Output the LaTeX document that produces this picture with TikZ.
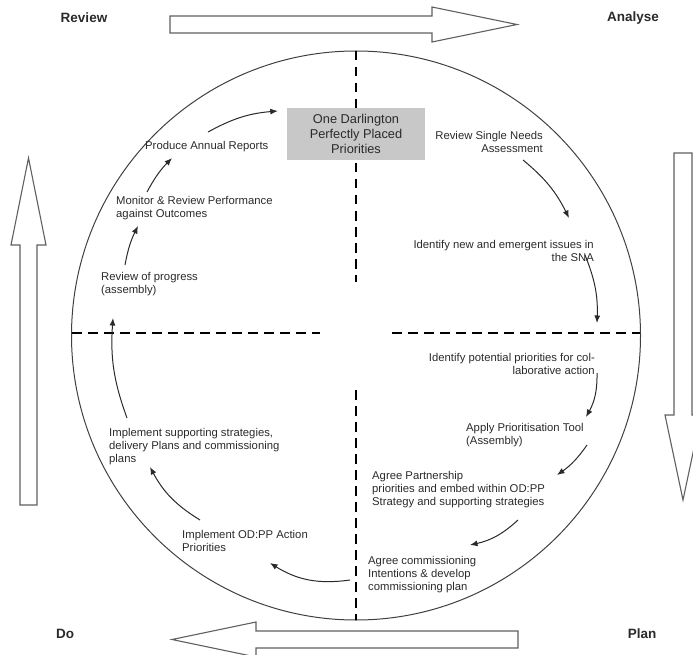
\documentclass[tikz,border=0pt]{standalone}
\usepackage{fontspec}
\setmainfont{Liberation Sans}
\usetikzlibrary{arrows.meta}
\definecolor{txtc}{HTML}{2A2A2A}
\definecolor{bigc}{HTML}{606060}
\definecolor{boxc}{HTML}{C8C8C8}
\definecolor{circc}{HTML}{404040}
\begin{document}
\begin{tikzpicture}[x=1pt,y=-1pt,
  txt/.style={inner sep=0pt, font=\fontsize{11.3}{13}\selectfont, text=txtc},
  conn/.style={draw=txtc, line width=1pt, -{Latex[length=7.5pt,width=6pt]}},
  big/.style={draw=bigc, fill=white, line width=1.1pt, line join=miter},
  divider/.style={line width=2.3pt, dash pattern=on 9.5pt off 6.5pt},
  lab/.style={inner sep=0pt, font=\bfseries\fontsize{13.5}{16}\selectfont, text=txtc}]
\useasboundingbox (0,0) rectangle (693,655);
\clip (0,0) rectangle (693,655);

% big arrows
\draw[big] (170,16) -- (432,16) -- (432,7) -- (517,24.5) -- (432,42) -- (432,33) -- (170,33) -- cycle;
\draw[big] (20,505) -- (20,245) -- (11,245) -- (28.5,158) -- (46,245) -- (37,245) -- (37,505) -- cycle;
\draw[big] (674,153) -- (692,153) -- (692,415) -- (701,415) -- (683,500) -- (665,415) -- (674,415) -- cycle;
\draw[big] (518,631) -- (256,631) -- (256,622) -- (172,639.5) -- (256,657) -- (256,648) -- (518,648) -- cycle;

% labels
\node[lab] (review) at (84,18) {Review};
\node[lab] (analyse) at (633,18) {Analyse};
\node[lab] (do) at (65,634) {Do};
\node[lab] (plan) at (642,634) {Plan};

% circle
\draw[circc, line width=1pt] (356,335.5) circle[radius=284.5];

% dividers
\draw[divider] (356,51) -- (356,282);
\draw[divider] (356,390) -- (356,620);
\draw[divider] (72,333) -- (320,333);
\draw[divider] (392,333) -- (640,333);

% centre box
\node[fill=boxc, minimum width=138pt, minimum height=52pt, align=center, inner sep=0pt,
      font=\fontsize{12.8}{14.8}\selectfont, text=txtc] (box) at (356,134)
  {One Darlington\\Perfectly Placed\\Priorities};

% steps
\node[txt, anchor=east, align=right] (n1) at (543,142) {Review Single Needs\\Assessment};
\node[txt, anchor=east, align=right] (n2) at (594,250.5) {Identify new and emergent issues in\\the SNA};
\node[txt, anchor=east, align=right] (n3) at (595,363.5) {Identify potential priorities for col-\\laborative action};
\node[txt, anchor=west, align=left] (n4) at (466,435.5) {Apply Prioritisation Tool\\(Assembly)};
\node[txt, anchor=west, align=left] (n5) at (372,490) {Agree Partnership\\priorities and embed within OD:PP\\Strategy and supporting strategies};
\node[txt, anchor=west, align=left] (n6) at (368,575) {Agree commissioning\\Intentions \& develop\\commissioning plan};
\node[txt, anchor=west, align=left] (n7) at (182,540.5) {Implement OD:PP Action\\Priorities};
\node[txt, anchor=west, align=left] (n8) at (109,446.5) {Implement supporting strategies,\\delivery Plans and commissioning\\plans};
\node[txt, anchor=west, align=left] (n9) at (101,284) {Review of progress\\(assembly)};
\node[txt, anchor=west, align=left] (n10) at (116,208.5) {Monitor \& Review Performance\\against Outcomes};
\node[txt, anchor=west, align=left] (n11) at (145,147) {Produce Annual Reports};

% connectors
\draw[conn] ([shift={(-20,18)}]n1.east) to[bend left=12] ([shift={(-25,-32.5)}]n2.east);
\draw[conn] ([shift={(-9,4.5)}]n2.east) to[bend left=12] ([shift={(2,-40.5)}]n3.east);
\draw[conn] ([shift={(2,9.5)}]n3.east) to[bend left=15] ([shift={(120,-18.5)}]n4.west);
\draw[conn] ([shift={(121,9.5)}]n4.west) to[bend left=10] ([shift={(185,-15)}]n5.west);
\draw[conn] ([shift={(146,30)}]n5.west) to[bend left=15] ([shift={(102,-30)}]n6.west);
\draw[conn] ([shift={(-18,5)}]n6.west) to[bend left=20] ([shift={(88,22.5)}]n7.west);
\draw[conn] ([shift={(18,-20.5)}]n7.west) to[bend left=15] ([shift={(41,20.5)}]n8.west);
\draw[conn] ([shift={(18,-28.5)}]n8.west) to[bend left=12] ([shift={(12,34)}]n9.west);
\draw[conn] ([shift={(24,-19)}]n9.west) to[bend left=8] ([shift={(22,17.5)}]n10.west);
\draw[conn] ([shift={(31,-16.5)}]n10.west) to[bend left=8] ([shift={(27,11)}]n11.west);
\draw[conn] ([shift={(63,-15)}]n11.west) to[bend left=12] ([shift={(-9,-23)}]box.west);
\end{tikzpicture}
\end{document}
